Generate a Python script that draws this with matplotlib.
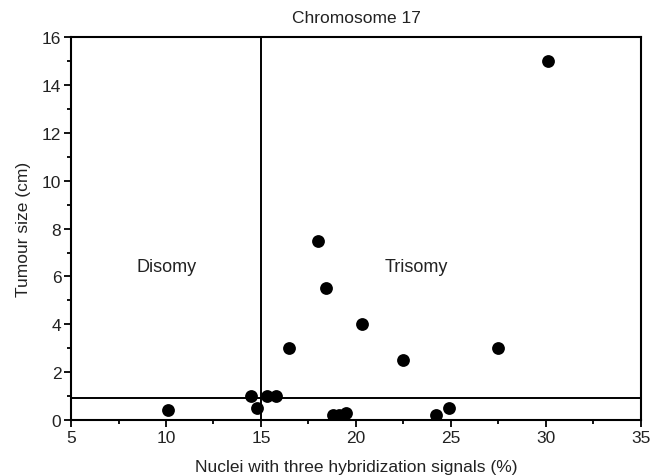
import matplotlib
matplotlib.use("Agg")
import matplotlib.pyplot as plt
from matplotlib.ticker import MultipleLocator

plt.rcParams["font.family"] = ["Liberation Sans", "DejaVu Sans"]

# Nuclei with three hybridization signals (%) vs tumour size (cm)
nuclei_pct = [10.1, 14.5, 14.8, 15.3, 15.8, 16.5, 18.0, 18.4, 18.8, 19.1,
              19.5, 20.3, 22.5, 24.2, 24.9, 27.5, 30.1]
tumour_cm = [0.4, 1.0, 0.5, 1.0, 1.0, 3.0, 7.5, 5.5, 0.2, 0.2,
             0.3, 4.0, 2.5, 0.2, 0.5, 3.0, 15.0]

cutoff_pct = 15.0    # disomy / trisomy threshold
cutoff_size = 0.9    # size threshold line

FS = 12.5
TXT = "#222222"

fig = plt.figure(figsize=(6.6, 4.77), dpi=100)
ax = fig.add_axes([0.1076, 0.1174, 0.8634, 0.8026])

ax.axvline(cutoff_pct, color="black", linewidth=1.4, zorder=2)
ax.axhline(cutoff_size, color="black", linewidth=1.4, zorder=2)
ax.scatter(nuclei_pct, tumour_cm, s=85, color="black", zorder=3, linewidths=0)

ax.text(10.05, 6.4, "Disomy", ha="center", va="center", fontsize=13, color=TXT)
ax.text(23.2, 6.4, "Trisomy", ha="center", va="center", fontsize=13, color=TXT)

ax.set_xlim(5, 35)
ax.set_ylim(0, 16)
ax.xaxis.set_major_locator(MultipleLocator(5))
ax.xaxis.set_minor_locator(MultipleLocator(2.5))
ax.yaxis.set_major_locator(MultipleLocator(2))
ax.yaxis.set_minor_locator(MultipleLocator(1))
ax.tick_params(which="both", direction="out", width=1.3, labelsize=FS,
               colors="black", labelcolor=TXT, pad=2)
ax.tick_params(which="major", length=5)
ax.tick_params(which="minor", length=3)
for s in ax.spines.values():
    s.set_linewidth(1.5)

ax.set_xlabel("Nuclei with three hybridization signals (%)", fontsize=FS,
              color=TXT, labelpad=10)
ax.set_ylabel("Tumour size (cm)", fontsize=FS, color=TXT, labelpad=8)
ax.set_title("Chromosome 17", fontsize=FS, color=TXT, pad=11)

fig.savefig("out.png", dpi=100, facecolor="white")
